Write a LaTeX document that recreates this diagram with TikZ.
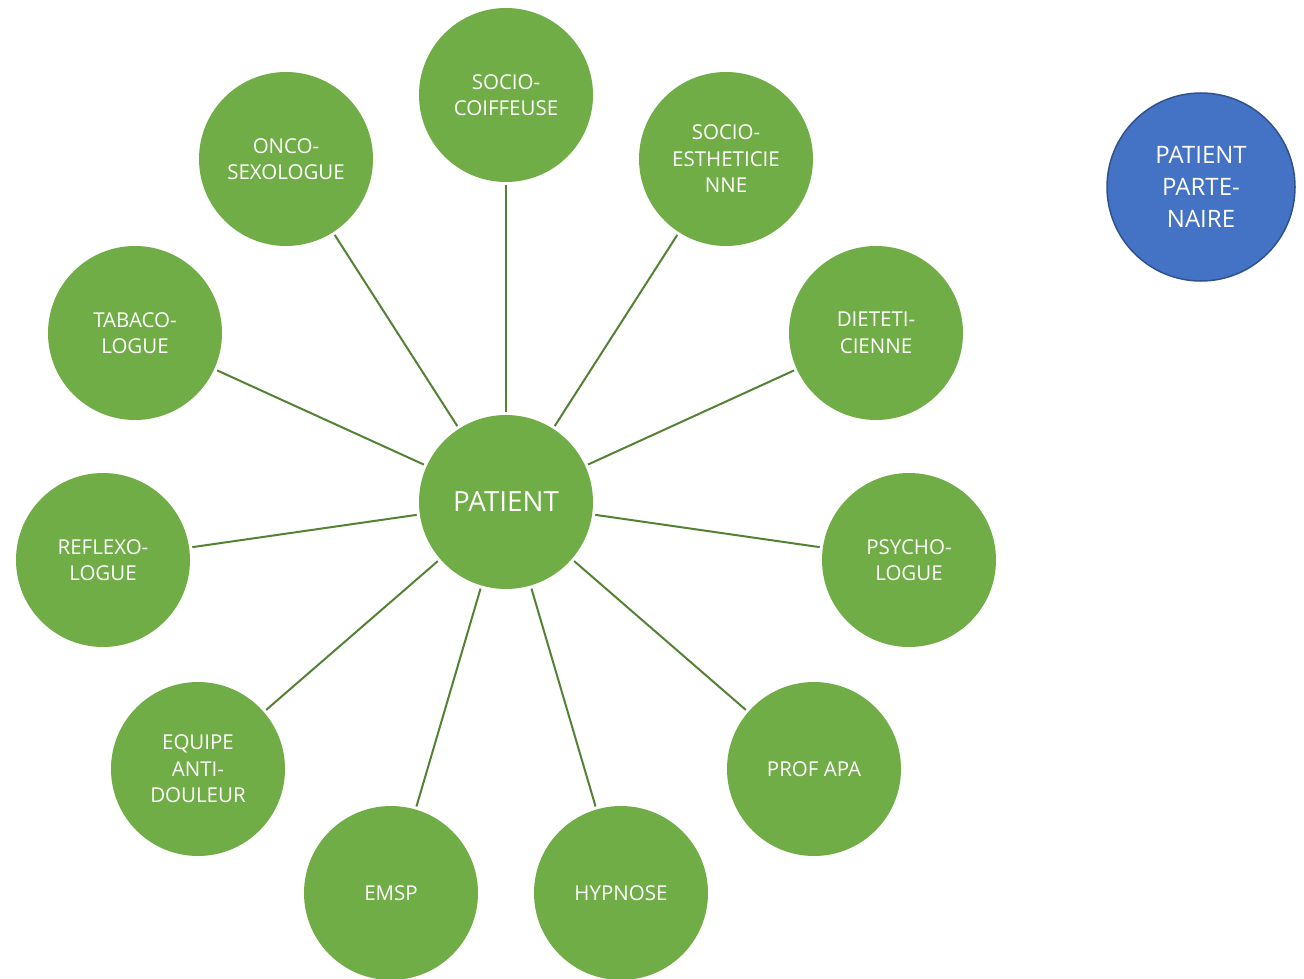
\documentclass[tikz,border=0pt]{standalone}
\usepackage{fontspec}
\setmainfont{Open Sans}
\usetikzlibrary{positioning}
\definecolor{vert}{HTML}{70AD47}
\definecolor{vertfonce}{HTML}{548235}
\definecolor{bleu}{HTML}{4472C4}
\definecolor{bleufonce}{HTML}{2F528F}
\tikzset{
  acteur/.style={circle,fill=vert,text=white,minimum size=174pt,inner sep=1pt,align=center,font=\fontsize{20.5}{26.5}\selectfont},
  centre/.style={acteur,font=\fontsize{27.8}{34}\selectfont},
  partenaire/.style={circle,draw=bleufonce,line width=1.5pt,fill=bleu,text=white,minimum size=188pt,inner sep=1pt,align=center,font=\fontsize{24}{32}\selectfont},
  lien/.style={draw=vertfonce,line width=2pt,shorten <=3pt,shorten >=3pt},
}
\begin{document}
\begin{tikzpicture}[x=1pt,y=-1pt]
  \useasboundingbox (0,0) rectangle (1304,979);
  % patient au centre
  \node[centre] (pat) at (506,502) {PATIENT};
  % intervenants
  \node[acteur] (coif) at (506,95) {SOCIO-\\COIFFEUSE};
  \node[acteur] (esth) at (726,159) {SOCIO-\\ESTHETICIE\\NNE};
  \node[acteur] (diet) at (876,333) {DIETETI-\\CIENNE};
  \node[acteur] (psy) at (909,560) {PSYCHO-\\LOGUE};
  \node[acteur] (apa) at (814,769) {PROF APA};
  \node[acteur] (hyp) at (621,893) {HYPNOSE};
  \node[acteur] (emsp) at (391,893) {EMSP};
  \node[acteur] (doul) at (198,769) {EQUIPE\\ANTI-\\DOULEUR};
  \node[acteur] (refl) at (103,560) {REFLEXO-\\LOGUE};
  \node[acteur] (taba) at (135,333) {TABACO-\\LOGUE};
  \node[acteur] (onco) at (286,159) {ONCO-\\SEXOLOGUE};
  \foreach \n in {coif,esth,diet,psy,apa,hyp,emsp,doul,refl,taba,onco}
    \draw[lien] (pat) -- (\n);
  % patient partenaire
  \node[partenaire] (part) at (1201,187) {PATIENT\\PARTE-\\NAIRE};
\end{tikzpicture}
\end{document}
